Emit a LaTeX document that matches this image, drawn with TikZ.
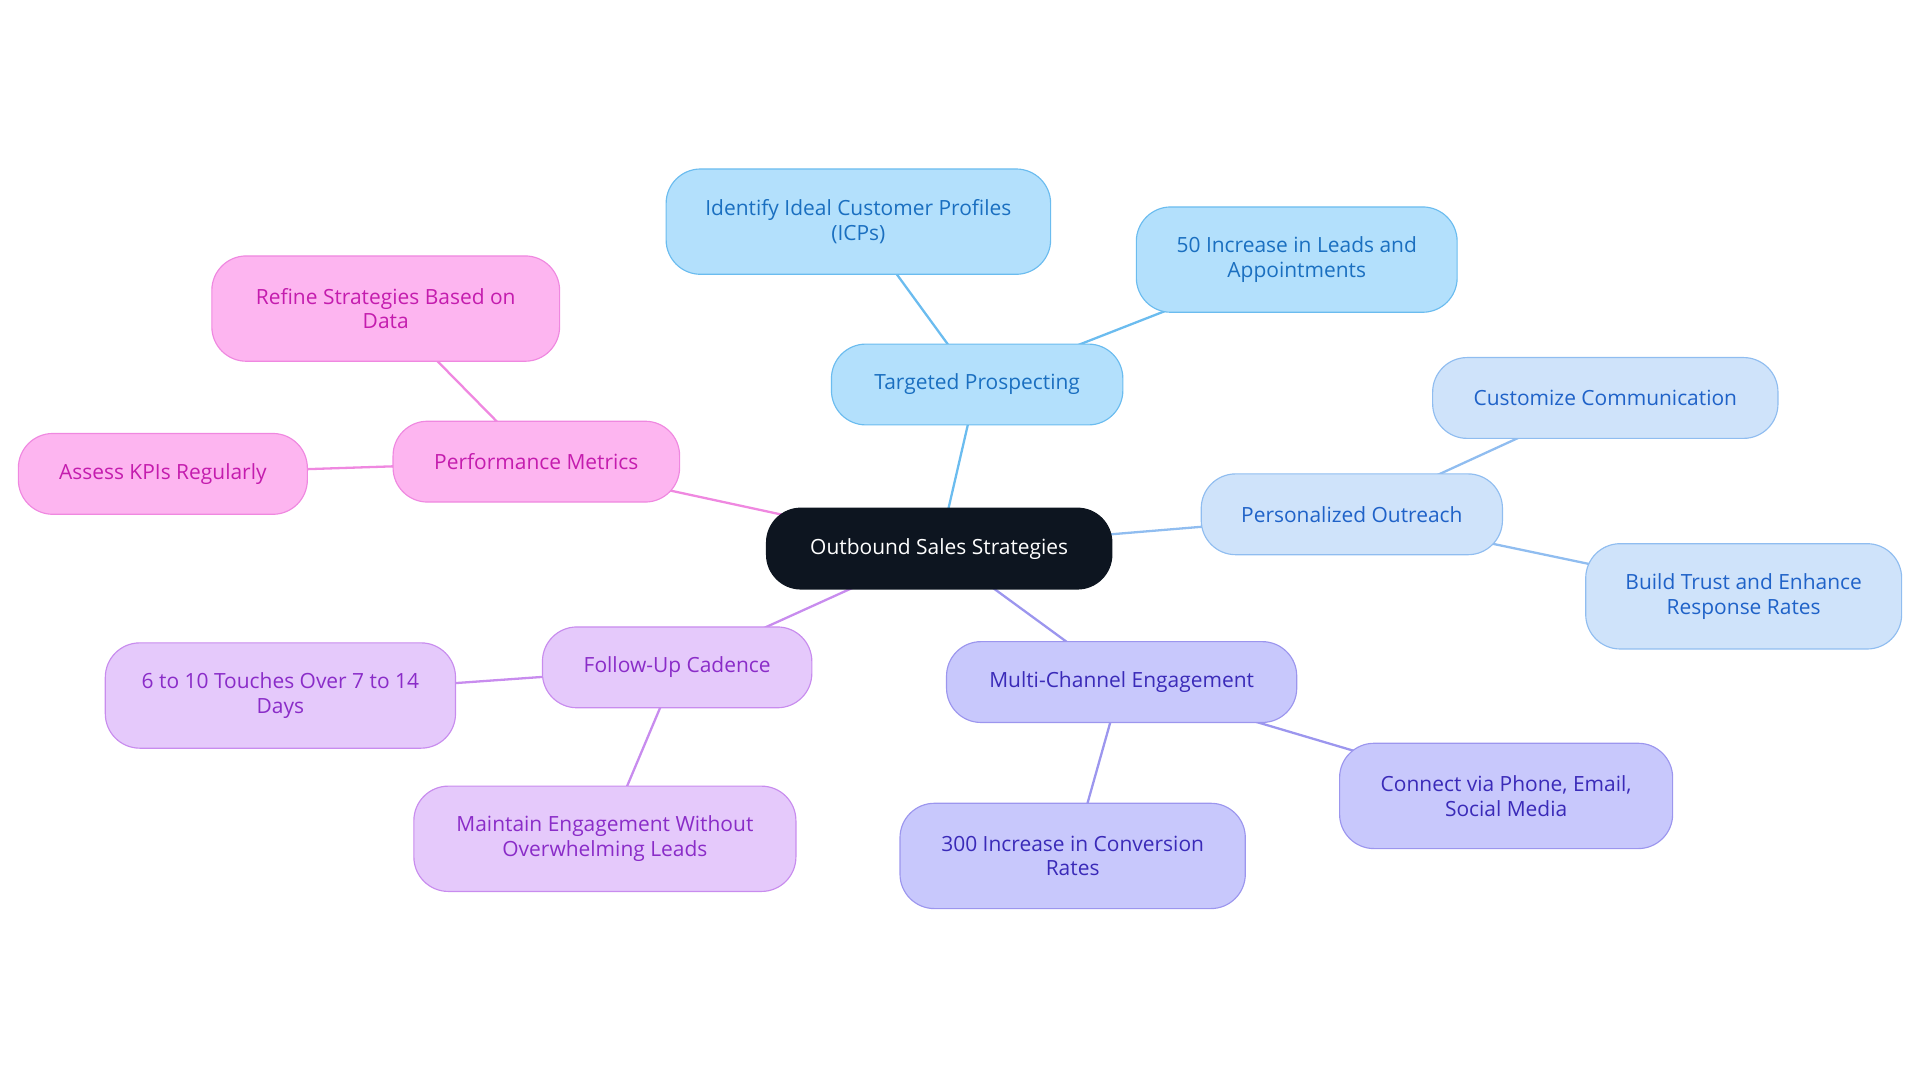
\documentclass[tikz,border=0pt]{standalone}
\usepackage{fontspec}
\setmainfont{Open Sans}
\usetikzlibrary{backgrounds}
\definecolor{cblk}{HTML}{0D1520}
\definecolor{tpF}{HTML}{B3E0FC}\definecolor{tpD}{HTML}{6BBCEF}\definecolor{tpT}{HTML}{1A6FC0}
\definecolor{poF}{HTML}{CFE3FA}\definecolor{poD}{HTML}{90BDF0}\definecolor{poT}{HTML}{1F62C8}
\definecolor{mcF}{HTML}{C8C8FC}\definecolor{mcD}{HTML}{9C96EE}\definecolor{mcT}{HTML}{3A2AB8}
\definecolor{fuF}{HTML}{E5C9FB}\definecolor{fuD}{HTML}{C88CEE}\definecolor{fuT}{HTML}{8A2CC8}
\definecolor{pmF}{HTML}{FDB5F0}\definecolor{pmD}{HTML}{EF88E0}\definecolor{pmT}{HTML}{C41CAE}
\tikzset{
 box/.style={rounded corners=24pt,align=center,font=\fontsize{14.6}{17.3}\selectfont,line width=0.8pt,inner sep=0pt},
 bx/.style n args={2}{box,minimum width=#1*0.03cm,minimum height=#2*0.03cm},
 tp/.style={fill=tpF,draw=tpD,text=tpT}, po/.style={fill=poF,draw=poD,text=poT},
 mc/.style={fill=mcF,draw=mcD,text=mcT}, fu/.style={fill=fuF,draw=fuD,text=fuT},
 pm/.style={fill=pmF,draw=pmD,text=pmT},
 ed/.style={line width=1.6pt}
}
\begin{document}
\begin{tikzpicture}[x=0.03cm,y=-0.03cm]
\useasboundingbox (0,0) rectangle (1568,884);
\node[bx={282}{66},fill=cblk,draw=cblk,text=white] (c) at (767,448) {Outbound Sales Strategies};
\node[bx={238}{66},tp] (tp) at (798,314) {Targeted Prospecting};
\node[bx={314}{86},tp] (icp) at (701,181) {Identify Ideal Customer Profiles\\(ICPs)};
\node[bx={262}{86},tp] (f50) at (1059,212) {50 Increase in Leads and\\Appointments};
\node[bx={246}{66},po] (po) at (1104,420) {Personalized Outreach};
\node[bx={282}{66},po] (cc) at (1311,325) {Customize Communication};
\node[bx={258}{86},po] (bt) at (1424,487) {Build Trust and Enhance\\Response Rates};
\node[bx={286}{66},mc] (mc) at (916,557) {Multi-Channel Engagement};
\node[bx={282}{86},mc] (t300) at (876,699) {300 Increase in Conversion\\Rates};
\node[bx={272}{86},mc] (cv) at (1230,650) {Connect via Phone, Email,\\Social Media};
\node[bx={220}{66},fu] (fu) at (553,545) {Follow-Up Cadence};
\node[bx={286}{86},fu] (six) at (229,568) {6 to 10 Touches Over 7 to 14\\Days};
\node[bx={312}{86},fu] (mt) at (494,685) {Maintain Engagement Without\\Overwhelming Leads};
\node[bx={234}{66},pm] (pm) at (438,377) {Performance Metrics};
\node[bx={284}{86},pm] (rf) at (315,252) {Refine Strategies Based on\\Data};
\node[bx={236}{66},pm] (as) at (133,387) {Assess KPIs Regularly};
\begin{pgfonlayer}{background}
\draw[ed,tpD] (c.center) -- (tp.center) (tp.center) -- (icp.center) (tp.center) -- (f50.center);
\draw[ed,poD] (c.center) -- (po.center) (po.center) -- (cc.center) (po.center) -- (bt.center);
\draw[ed,mcD] (c.center) -- (mc.center) (mc.center) -- (t300.center) (mc.center) -- (cv.center);
\draw[ed,fuD] (c.center) -- (fu.center) (fu.center) -- (six.center) (fu.center) -- (mt.center);
\draw[ed,pmD] (c.center) -- (pm.center) (pm.center) -- (rf.center) (pm.center) -- (as.center);
\end{pgfonlayer}
\end{tikzpicture}
\end{document}
